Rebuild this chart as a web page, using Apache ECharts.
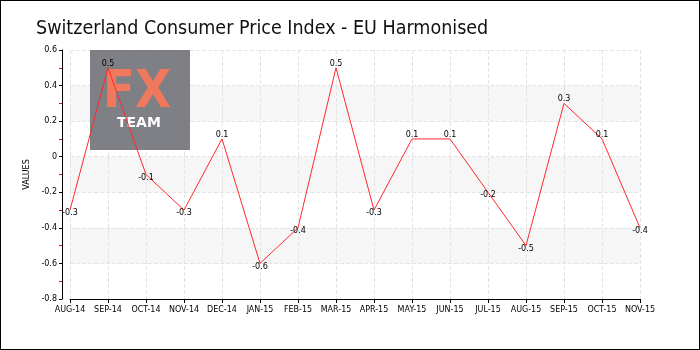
<!DOCTYPE html>
<html>
<head>
<meta charset="utf-8">
<script src="https://cdn.jsdelivr.net/npm/echarts@6/dist/echarts.min.js"></script>
<style>
  html, body { margin: 0; padding: 0; background: #fff; }
  #chart { width: 698px; height: 348px; border: 1px solid #000; }
</style>
</head>
<body>
<div id="chart"></div>
<script>
var months = ['AUG-14', 'SEP-14', 'OCT-14', 'NOV-14', 'DEC-14', 'JAN-15', 'FEB-15', 'MAR-15',
              'APR-15', 'MAY-15', 'JUN-15', 'JUL-15', 'AUG-15', 'SEP-15', 'OCT-15', 'NOV-15'];
var cpi = [-0.3, 0.5, -0.1, -0.3, 0.1, -0.6, -0.4, 0.5, -0.3, 0.1, 0.1, -0.2, -0.5, 0.3, 0.1, -0.4];

var chart = echarts.init(document.getElementById('chart'));

// positive values get their label above the point, negative ones below
var points = cpi.map(function (v) {
    return {
        value: v,
        label: { position: v >= 0 ? 'top' : 'bottom', distance: v >= 0 ? 0 : -1 }
    };
});

var option = {
    animation: false,
    title: {
        text: 'Switzerland Consumer Price Index - EU Harmonised',
        left: 30,
        top: 13,
        textStyle: {
            fontFamily: '"DejaVu Sans Condensed", Roboto',
            fontWeight: 'normal', fontSize: 19.5, color: '#111'
        }
    },
    grid: { left: 69, right: 59, top: 49, bottom: 50 },
    graphic: [
        { type: 'rect', left: 89, top: 49, z: 3, shape: { width: 100, height: 100 },
          style: { fill: '#75757d', opacity: 0.93 } },
        { type: 'text', left: 102, top: 66, z: 4,
          style: { text: 'FX', fill: '#f0785c', font: 'bold 52px "DejaVu Sans Condensed"' } },
        { type: 'text', left: 116, top: 115, z: 4,
          style: { text: 'TEAM', fill: '#ffffff', font: 'bold 14px "DejaVu Sans"' } }
    ],
    xAxis: {
        type: 'category',
        data: months,
        boundaryGap: false,
        axisLine: { onZero: false, lineStyle: { color: '#000' } },
        axisTick: { show: true, length: 4, interval: 0, lineStyle: { color: '#000' } },
        axisLabel: { interval: 0, color: '#000', fontFamily: 'DejaVu Sans', fontSize: 8, margin: 7 },
        splitLine: { show: true, interval: 0, lineStyle: { color: '#e4e4e4', type: 'dashed' } }
    },
    yAxis: {
        type: 'value',
        min: -0.8,
        max: 0.6,
        interval: 0.2,
        offset: 8,
        name: 'VALUES',
        nameLocation: 'middle',
        nameGap: 24,
        nameTextStyle: { color: '#000', fontFamily: 'DejaVu Sans', fontSize: 8 },
        axisLine: { show: true, lineStyle: { color: '#000' } },
        axisTick: { show: true, length: 3, lineStyle: { color: '#000' } },
        minorTick: { show: true, splitNumber: 2, length: 3, lineStyle: { color: '#ff0000' } },
        axisLabel: {
            color: '#000', fontFamily: 'DejaVu Sans', fontSize: 8, margin: 5,
            formatter: function (v) { return Math.round(v * 10) / 10 + ''; }
        },
        splitLine: { show: true, lineStyle: { color: '#e4e4e4', type: 'dashed' } },
        splitArea: { show: true, areaStyle: { color: ['#ffffff', '#f6f6f6'] } }
    },
    series: [{
        type: 'line',
        data: points,
        z: 5,
        symbol: 'circle',
        symbolSize: 0.1,
        showAllSymbol: true,
        itemStyle: { color: '#ff2a2a' },
        lineStyle: { color: '#ff2a2a', width: 1 },
        label: {
            show: true,
            color: '#000',
            fontFamily: 'DejaVu Sans',
            fontSize: 8
        },
        labelLayout: { hideOverlap: false }
    }]
};

chart.setOption(option);
</script>
</body>
</html>
